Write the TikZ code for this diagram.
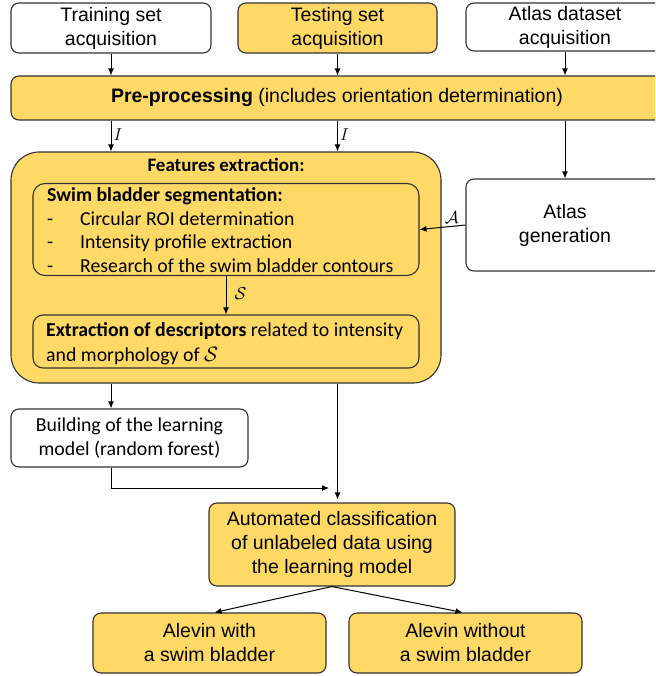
\documentclass[tikz,border=0pt]{standalone}
\usepackage{fontspec}
\setmainfont{Liberation Sans}
\newfontfamily\calibfont{Carlito}
\usetikzlibrary{arrows.meta}
\definecolor{yel}{RGB}{255,217,102}
\definecolor{bd}{RGB}{50,50,50}
\begin{document}
\begin{tikzpicture}[x=1pt,y=-1pt,
  box/.style={draw=bd, line width=1.1pt, rounded corners=8pt, inner sep=0pt, align=center,
    font=\fontsize{19.5}{24}\selectfont},
  yb/.style={box, fill=yel},
  ctext/.style={font=\calibfont\fontsize{19.8}{25}\selectfont, inner sep=0pt},
  arr/.style={-{Latex[length=7pt,width=6pt]}, line width=1pt, draw=black},
  lab/.style={font=\fontsize{17}{17}\selectfont, inner sep=2pt}]
\useasboundingbox (0,0) rectangle (655,676);
\clip (0,0) rectangle (655,676);

\node[box, minimum width=200pt, minimum height=50pt] (train) at (111,28) {Training set\\acquisition};
\node[yb, minimum width=199pt, minimum height=50pt] (test) at (337.5,28) {Testing set\\acquisition};
\node[box, minimum width=198pt, minimum height=48pt] (atlasd) at (565,27) {Atlas dataset\\acquisition};
\node[yb, minimum width=652pt, minimum height=44pt] (pre) at (337,98) {\textbf{Pre-processing} (includes orientation determination)};

\node[yb, rounded corners=28pt, minimum width=430pt, minimum height=231pt] (feat) at (226,267.5) {};
\node[ctext, anchor=base, font=\calibfont\bfseries\fontsize{19}{24}\selectfont] (feattitle) at (226,172) {Features extraction:};
\node[box, rounded corners=12pt, minimum width=386pt, minimum height=92pt] (swim) at (226,229.5) {};
\node[ctext, anchor=base west, font=\calibfont\bfseries\fontsize{19.8}{24}\selectfont] (swimtitle) at (47,201) {Swim bladder segmentation:};
\node[ctext, anchor=base west] (i1) at (47,225) {\makebox[33pt][l]{-}Circular ROI determination};
\node[ctext, anchor=base west] (i2) at (47,248.5) {\makebox[33pt][l]{-}Intensity profile extraction};
\node[ctext, anchor=base west] (i3) at (47,272) {\makebox[33pt][l]{-}Research of the swim bladder contours};
\node[box, rounded corners=10pt, minimum width=386pt, minimum height=53pt] (extr) at (226,341.5) {};
\node[ctext, anchor=base west] (e1) at (46,336) {\textbf{Extraction of descriptors} related to intensity};
\node[ctext, anchor=base west] (e2) at (46,361) {and morphology of $\mathcal{S}$};

\node[box, minimum width=198pt, minimum height=92pt] (atlasg) at (565,225) {Atlas\\generation};

\node[box, minimum width=237pt, minimum height=58pt, font=\calibfont\fontsize{19.8}{24}\selectfont] (build) at (129.5,438) {Building of the learning\\model (random forest)};
\node[yb, minimum width=246pt, minimum height=83pt] (auto) at (332,544.5) {Automated classification\\of unlabeled data using\\the learning model};
\node[yb, minimum width=233pt, minimum height=60pt] (alw) at (209.5,643) {Alevin with\\a swim bladder};
\node[yb, minimum width=233pt, minimum height=60pt] (alwo) at (465.5,643) {Alevin without\\a swim bladder};

\draw[arr] (train.south) -- (train.south |- pre.north);
\draw[arr] (test.south) -- (test.south |- pre.north);
\draw[arr] (atlasd.south) -- (atlasd.south |- pre.north);
\draw[arr] (pre.south -| train) -- node[lab, right, pos=0.45] {$I$} (feat.north -| train);
\draw[arr] (pre.south -| test) -- node[lab, right, pos=0.45] {$I$} (feat.north -| test);
\draw[arr] (pre.south -| atlasg) -- (atlasg.north);
\draw[arr] (atlasg.west) -- node[lab, above, pos=0.3] {$\mathcal{A}$} (swim.east);
\draw[arr] (swim.south) -- node[lab, right, pos=0.45, xshift=6pt] {$\mathcal{S}$} (extr.north);
\draw[arr] (feat.south -| train) -- (build.north -| train);
\draw[arr] (feat.south -| test) -- ([yshift=3pt]auto.north -| test);
\coordinate (join) at (329,488);
\draw[arr] (build.south -| train) |- (join);
\draw[arr] (auto.south) -- ([xshift=5pt]alw.north);
\draw[arr] (auto.south) -- ([xshift=-3pt]alwo.north);
\end{tikzpicture}
\end{document}
